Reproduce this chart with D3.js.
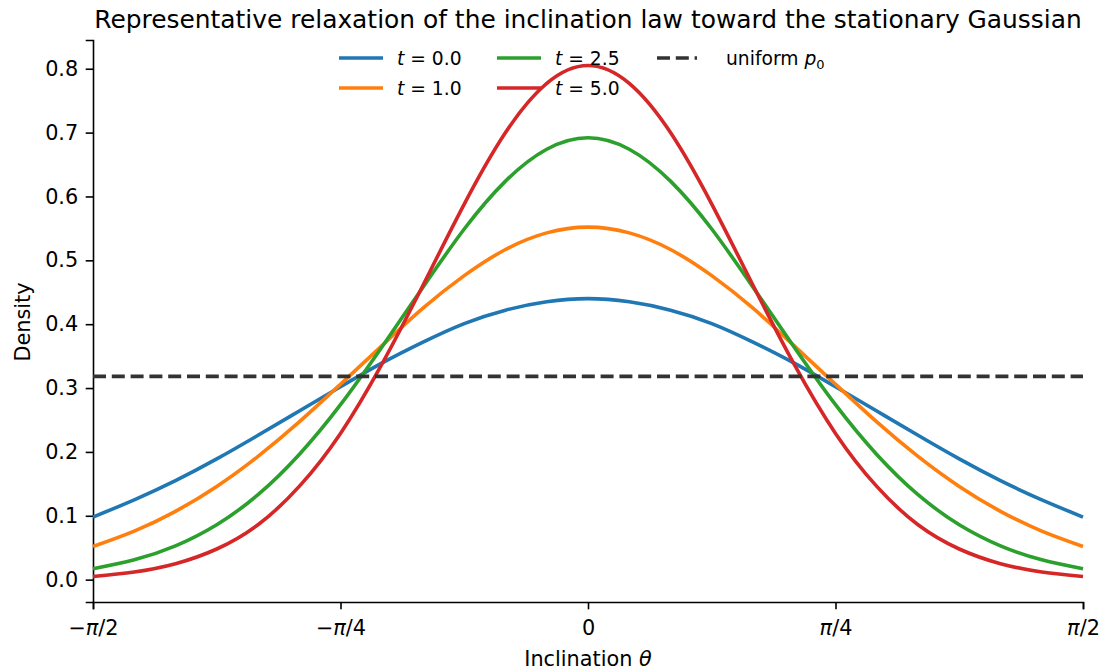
<!DOCTYPE html>
<html>
<head>
<meta charset="utf-8">
<script src="https://cdn.jsdelivr.net/npm/d3@7"></script>
<style>
  body { margin: 0; background: #fff; }
  svg { font-family: "DejaVu Sans", sans-serif; }
</style>
</head>
<body>
<svg id="chart"></svg>
<script>
// inclination grid (radians), read at steps of pi/24
const theta = [-1.5708, -1.4399, -1.3090, -1.1781, -1.0472, -0.9163, -0.7854, -0.6545, -0.5236, -0.3927, -0.2618, -0.1309, 0,
  0.1309, 0.2618, 0.3927, 0.5236, 0.6545, 0.7854, 0.9163, 1.0472, 1.1781, 1.3090, 1.4399, 1.5708];

const densT0 = [0.098, 0.125, 0.155, 0.189, 0.226, 0.264, 0.302, 0.339, 0.372, 0.401, 0.422, 0.435, 0.440,
  0.435, 0.422, 0.401, 0.372, 0.339, 0.302, 0.264, 0.226, 0.189, 0.155, 0.125, 0.098];
const densT1 = [0.052, 0.076, 0.107, 0.146, 0.193, 0.247, 0.306, 0.366, 0.425, 0.476, 0.517, 0.543, 0.552,
  0.543, 0.517, 0.476, 0.425, 0.366, 0.306, 0.247, 0.193, 0.146, 0.107, 0.076, 0.052];
const densT25 = [0.017, 0.031, 0.053, 0.086, 0.133, 0.196, 0.274, 0.364, 0.458, 0.549, 0.624, 0.674, 0.692,
  0.674, 0.624, 0.549, 0.458, 0.364, 0.274, 0.196, 0.133, 0.086, 0.053, 0.031, 0.017];
const densT5 = [0.005, 0.012, 0.025, 0.048, 0.086, 0.146, 0.229, 0.337, 0.461, 0.588, 0.700, 0.777, 0.805,
  0.777, 0.700, 0.588, 0.461, 0.337, 0.229, 0.146, 0.086, 0.048, 0.025, 0.012, 0.005];
const uniformP0 = 0.3183;

const seriesNames = ['0.0', '1.0', '2.5', '5.0'];
const seriesColors = ['#1f77b4', '#ff7f0e', '#2ca02c', '#d62728'];

const xTickVals = [-Math.PI / 2, -Math.PI / 4, 0, Math.PI / 4, Math.PI / 2];
// [sign, pi, rest]
const xTickLabels = [['\u2212', '\u03c0', '/2'], ['\u2212', '\u03c0', '/4'], ['', '', '0'], ['', '\u03c0', '/4'], ['', '\u03c0', '/2']];
const yTickVals = [0, 0.1, 0.2, 0.3, 0.4, 0.5, 0.6, 0.7, 0.8];

const W = 1106, H = 672;
const margin = { top: 40, right: 23, bottom: 70, left: 93 };
const width = W - margin.left - margin.right;
const height = H - margin.top - margin.bottom;
const baseFont = 20.8;

const svg = d3.select('#chart').attr('width', W).attr('height', H);
const g = svg.append('g').attr('transform', `translate(${margin.left},${margin.top})`);

const x = d3.scaleLinear().domain([-Math.PI / 2, Math.PI / 2]).range([0, width]);
const y = d3.scaleLinear().domain([-0.035, 0.845]).range([height, 0]);

// axes
const xAxis = g.append('g')
  .attr('transform', `translate(0,${height})`)
  .call(d3.axisBottom(x).tickValues(xTickVals).tickFormat('').tickSize(7.3).tickPadding(7));
const yAxis = g.append('g')
  .call(d3.axisLeft(y).tickValues(yTickVals).tickFormat(d3.format('.1f')).tickSize(7.3).tickPadding(7.5));

[xAxis, yAxis].forEach(a => {
  a.select('.domain').attr('stroke', '#000').attr('stroke-width', 1.6);
  a.selectAll('.tick line').attr('stroke', '#000').attr('stroke-width', 1.6);
  a.selectAll('.tick text').attr('fill', '#000').style('font-size', baseFont + 'px').style('font-family', '"DejaVu Sans", sans-serif');
});

// pi tick labels with italic pi
xAxis.selectAll('.tick').each(function (d, i) {
  const parts = xTickLabels[i];
  const t = d3.select(this).select('text')
    .attr('y', 0).attr('dy', null)
    .attr('transform', 'translate(0,33)');
  t.selectAll('*').remove();
  t.text(null);
  if (parts[0]) t.append('tspan').text(parts[0]);
  if (parts[1]) t.append('tspan').style('font-style', 'italic').text(parts[1]);
  t.append('tspan').text(parts[2]);
});

// curves
const line = d3.line()
  .x(d => x(d[0]))
  .y(d => y(d[1]))
  .curve(d3.curveNatural);

const allSeries = [densT0, densT1, densT25, densT5];
allSeries.forEach((vals, i) => {
  g.append('path')
    .datum(theta.map((t, j) => [t, vals[j]]))
    .attr('fill', 'none')
    .attr('stroke', seriesColors[i])
    .attr('stroke-width', 3.6)
    .attr('d', line);
});

// uniform reference
g.append('line')
  .attr('x1', x(-Math.PI / 2)).attr('x2', x(Math.PI / 2))
  .attr('y1', y(uniformP0)).attr('y2', y(uniformP0))
  .attr('stroke', '#333')
  .attr('stroke-width', 3.6)
  .attr('stroke-dasharray', '13,5.8');

// legend
const legend = svg.append('g').style('font-size', '18.7px');
const legPos = [[339, 58], [339, 88], [497, 58], [497, 88]];
seriesNames.forEach((name, i) => {
  const [lx, ly] = legPos[i];
  legend.append('line')
    .attr('x1', lx).attr('x2', lx + 44).attr('y1', ly).attr('y2', ly)
    .attr('stroke', seriesColors[i]).attr('stroke-width', 3.6);
  const txt = legend.append('text').attr('x', lx + 58).attr('y', ly).attr('dy', '0.35em');
  txt.append('tspan').style('font-style', 'italic').text('t');
  txt.append('tspan').text(' = ' + name);
});
legend.append('line')
  .attr('x1', 657).attr('x2', 697).attr('y1', 58).attr('y2', 58)
  .attr('stroke', '#333').attr('stroke-width', 3.6).attr('stroke-dasharray', '13,5.8');
const ut = legend.append('text').attr('x', 726).attr('y', 58).attr('dy', '0.35em');
ut.append('tspan').text('uniform ');
ut.append('tspan').style('font-style', 'italic').text('p');
ut.append('tspan').attr('dy', '4').style('font-size', '13px').text('0');

// labels
svg.append('text')
  .attr('x', margin.left + width / 2).attr('y', 28)
  .attr('text-anchor', 'middle')
  .style('font-size', '24.9px')
  .text('Representative relaxation of the inclination law toward the stationary Gaussian');

const xl = svg.append('text')
  .attr('x', margin.left + width / 2).attr('y', 666)
  .attr('text-anchor', 'middle')
  .style('font-size', baseFont + 'px');
xl.append('tspan').text('Inclination ');
xl.append('tspan').style('font-style', 'italic').text('\u03b8');

svg.append('text')
  .attr('transform', 'translate(30,322) rotate(-90)')
  .attr('text-anchor', 'middle')
  .style('font-size', baseFont + 'px')
  .text('Density');
</script>
</body>
</html>
